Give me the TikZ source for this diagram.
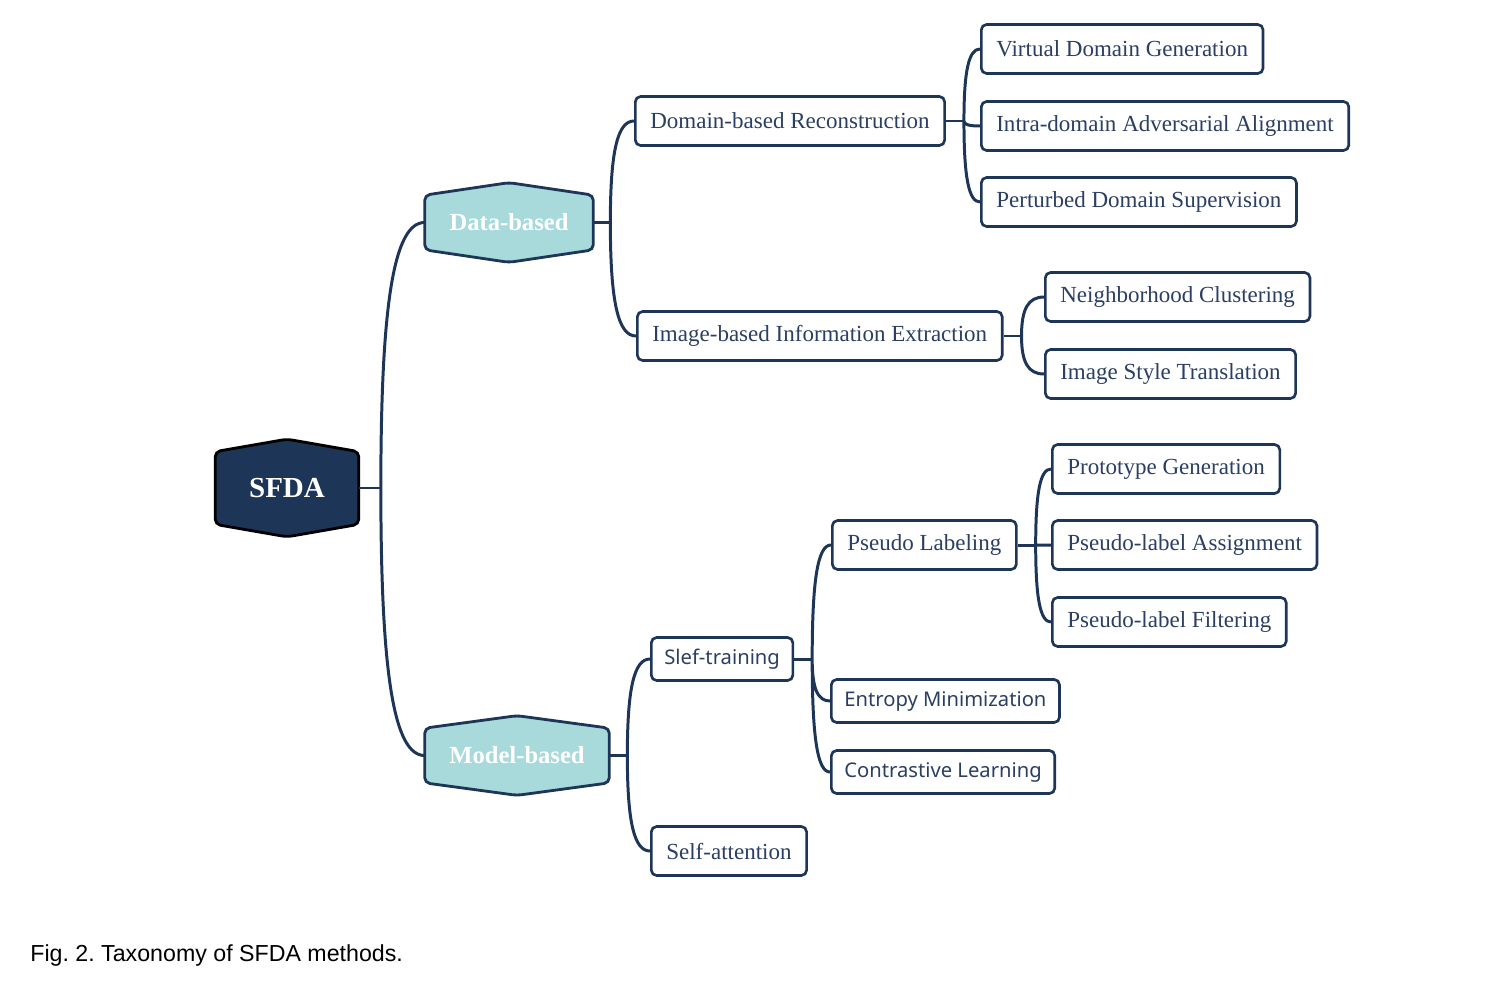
\documentclass[tikz,border=0pt]{standalone}
\usepackage{fontspec}
\setmainfont{Liberation Serif}
\setsansfont{Liberation Sans}
\newfontfamily\uisans{Noto Sans}
\usetikzlibrary{positioning,calc,backgrounds}
\frenchspacing

\definecolor{navy}{HTML}{1D3557}
\definecolor{ink}{HTML}{2B3F62}
\definecolor{powder}{HTML}{A8DADC}

\begin{document}
\begin{tikzpicture}[x=0.02cm,y=-0.02cm,
  link/.style={draw=navy,line width=1.7pt},
  branch/.style={to path={.. controls ($(\tikztostart)!0.7!(\tikztostart |- \tikztotarget)$)
      and ($(\tikztostart |- \tikztotarget)!0.3!(\tikztotarget)$) .. (\tikztotarget)}},
  hub/.style={inner sep=0pt,text=white,font=\bfseries\fontsize{14}{16}\selectfont},
  hexline/.style={line width=1.6pt,rounded corners=3pt},
  leaf/.style={draw=navy,line width=1.5pt,rounded corners=3pt,fill=white,text=ink,
    anchor=west,minimum height=0.98cm,inner xsep=0.3cm,font=\fontsize{13.1}{15}\selectfont},
  sleaf/.style={leaf,minimum height=0.86cm,inner xsep=0.26cm,font=\uisans\fontsize{11.5}{14}\selectfont}]
  \useasboundingbox (0,0) rectangle (1490,980);

  % hubs
  \node[hub,minimum width=2.86cm,minimum height=1.94cm,font=\bfseries\fontsize{16.5}{18}\selectfont] (sfda) at (287,488) {SFDA};
  \node[hub,minimum width=3.36cm,minimum height=1.58cm] (data) at (509,222.5) {Data-based};
  \node[hub,minimum width=3.68cm,minimum height=1.58cm] (model) at (517,755.5) {Model-based};
  \begin{scope}[on background layer]
    \foreach \n/\c/\d in {sfda/navy/black,data/powder/navy,model/powder/navy}
      \draw[hexline,draw=\d,fill=\c] ([yshift=-0.25cm]\n.north west) -- (\n.north)
        -- ([yshift=-0.25cm]\n.north east) -- ([yshift=0.25cm]\n.south east)
        -- (\n.south) -- ([yshift=0.25cm]\n.south west) -- cycle;
  \end{scope}

  % data-based branch
  \node[leaf] (dom) at (634,121) {Domain-based Reconstruction};
  \node[leaf] (img) at (636,336) {Image-based Information Extraction};
  \node[leaf] (vir) at (980,49) {Virtual Domain Generation};
  \node[leaf] (intra) at (980,126) {Intra-domain Adversarial Alignment};
  \node[leaf] (pert) at (980,202) {Perturbed Domain Supervision};
  \node[leaf] (neigh) at (1044,297) {Neighborhood Clustering};
  \node[leaf] (style) at (1044,374) {Image Style Translation};

  % model-based branch
  \node[sleaf] (slef) at (650,659) {Slef-training};
  \node[leaf] (attn) at (650,851) {Self-attention};
  \node[leaf] (plab) at (831,545) {Pseudo Labeling};
  \node[sleaf] (entropy) at (830,701) {Entropy Minimization};
  \node[sleaf] (contrast) at (830,772) {Contrastive Learning};
  \node[leaf] (proto) at (1051,469) {Prototype Generation};
  \node[leaf] (assign) at (1051,545) {Pseudo-label Assignment};
  \node[leaf] (filter) at (1051,622) {Pseudo-label Filtering};

  % connectors
  \draw[link] (sfda.east) -- ++(22,0) coordinate (j0);
  \draw[link] (j0) to[branch] (data.west) (j0) to[branch] (model.west);
  \draw[link] (data.east) -- ++(17,0) coordinate (j1);
  \draw[link] (j1) to[branch] (dom.west) (j1) to[branch] (img.west);
  \draw[link] (dom.east) -- ++(18,0) coordinate (j2);
  \draw[link] (j2) to[branch] (vir.west) (j2) to[branch] (intra.west) (j2) to[branch] (pert.west);
  \draw[link] (img.east) -- ++(18,0) coordinate (j3);
  \draw[link] (j3) to[branch] (neigh.west) (j3) to[branch] (style.west);
  \draw[link] (model.east) -- ++(18,0) coordinate (j4);
  \draw[link] (j4) to[branch] (slef.west) (j4) to[branch] (attn.west);
  \draw[link] (slef.east) -- ++(18,0) coordinate (j5);
  \draw[link] (j5) to[branch] (plab.west) (j5) to[branch] (entropy.west) (j5) to[branch] (contrast.west);
  \draw[link] (plab.east) -- ++(18,0) coordinate (j6);
  \draw[link] (j6) to[branch] (proto.west) (j6) to[branch] (assign.west) (j6) to[branch] (filter.west);

  \node[anchor=base west,inner sep=0pt,font=\sffamily\fontsize{13.2}{15}\selectfont] (cap) at (30,961) {Fig. 2. Taxonomy of SFDA methods.};
\end{tikzpicture}
\end{document}
